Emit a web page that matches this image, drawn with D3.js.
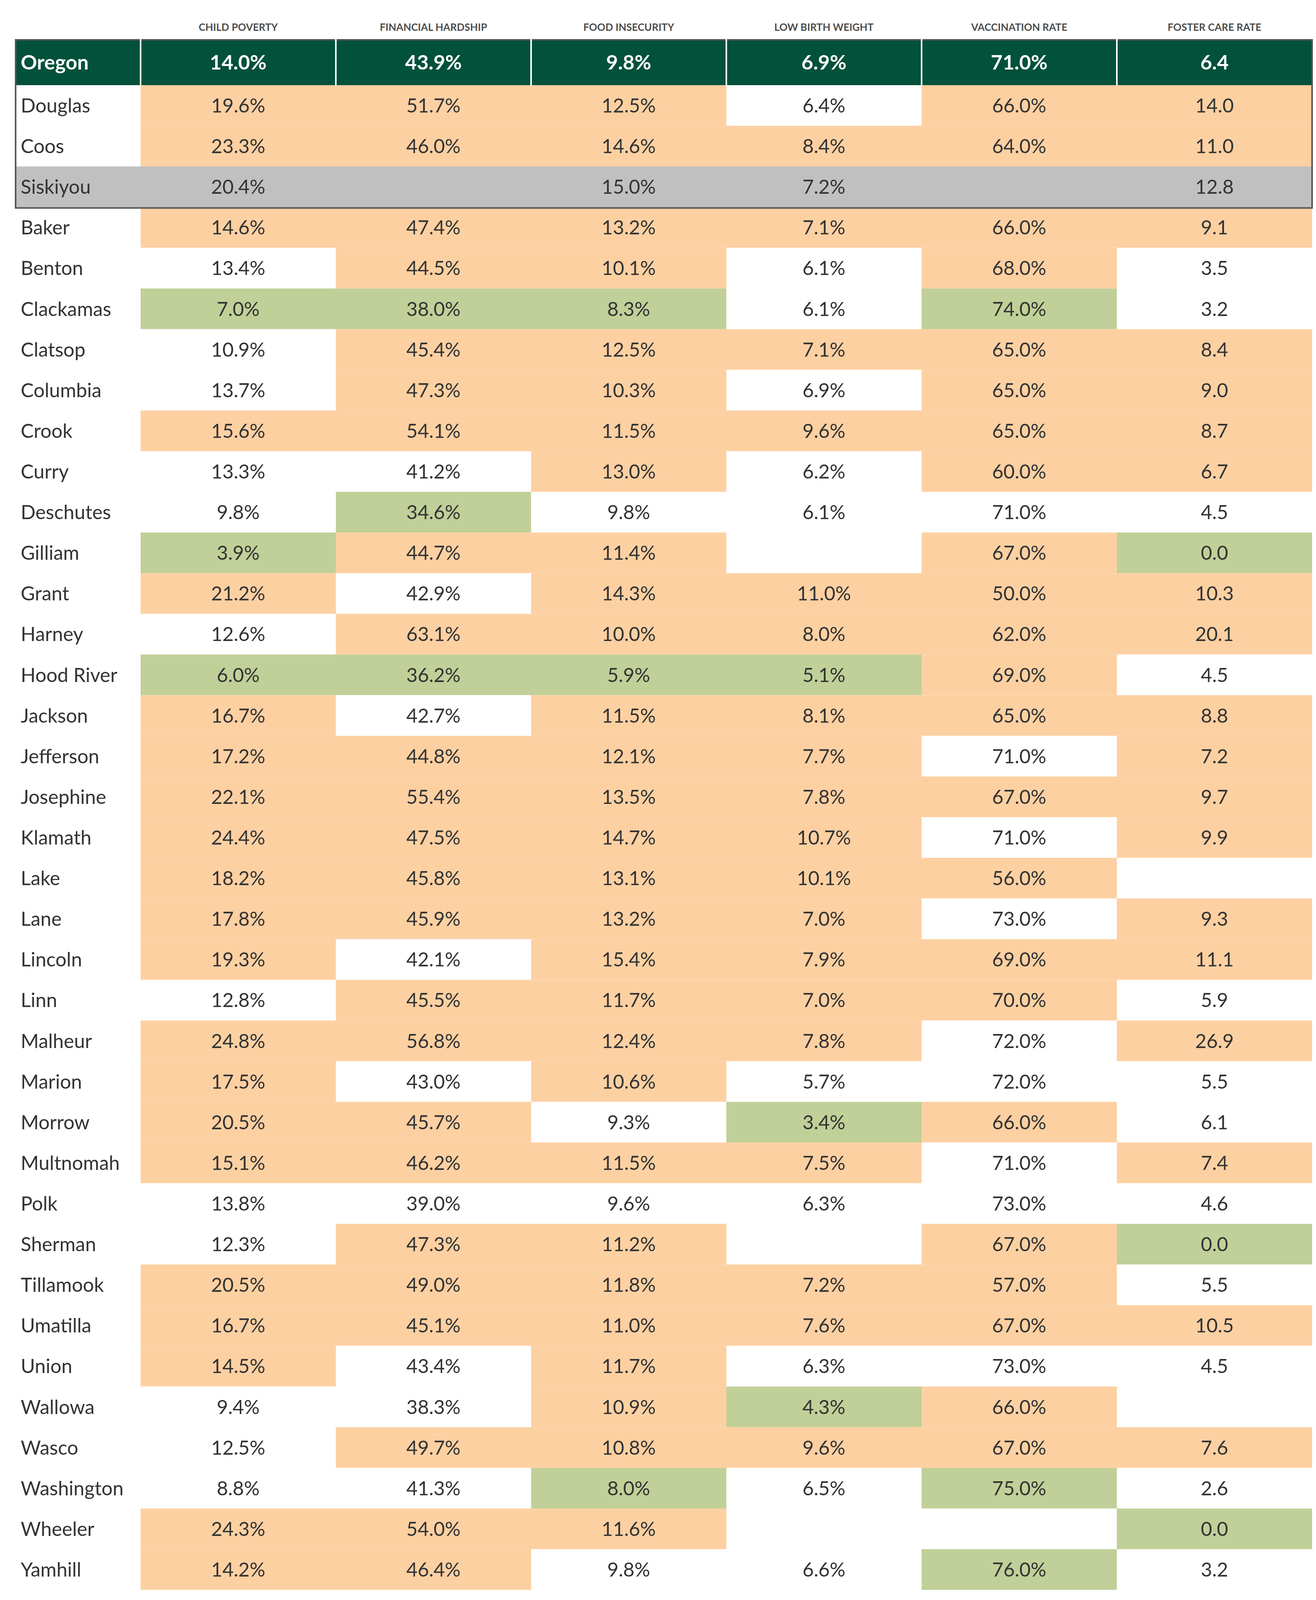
<!DOCTYPE html>
<html>
<head>
<meta charset="utf-8">
<script src="https://cdn.jsdelivr.net/npm/d3@7"></script>
<style>
  html, body { margin: 0; padding: 0; background: #ffffff; }
  svg { display: block; }
</style>
</head>
<body>
<svg id="chart" width="3370" height="4110"></svg>
<script>
// ---------- DATA ----------
const metricLabels = ["CHILD POVERTY", "FINANCIAL HARDSHIP", "FOOD INSECURITY", "LOW BIRTH WEIGHT", "VACCINATION RATE", "FOSTER CARE RATE"];
const stateName = "Oregon";
const stateValues = ["14.0%", "43.9%", "9.8%", "6.9%", "71.0%", "6.4"];

const counties = ["Douglas","Coos","Siskiyou","Baker","Benton","Clackamas","Clatsop","Columbia","Crook","Curry","Deschutes","Gilliam","Grant","Harney","Hood River","Jackson","Jefferson","Josephine","Klamath","Lake","Lane","Lincoln","Linn","Malheur","Marion","Morrow","Multnomah","Polk","Sherman","Tillamook","Umatilla","Union","Wallowa","Wasco","Washington","Wheeler","Yamhill"];
const highlightedCounty = "Siskiyou";

const childPoverty    = ["19.6%","23.3%","20.4%","14.6%","13.4%","7.0%","10.9%","13.7%","15.6%","13.3%","9.8%","3.9%","21.2%","12.6%","6.0%","16.7%","17.2%","22.1%","24.4%","18.2%","17.8%","19.3%","12.8%","24.8%","17.5%","20.5%","15.1%","13.8%","12.3%","20.5%","16.7%","14.5%","9.4%","12.5%","8.8%","24.3%","14.2%"];
const financialHardship = ["51.7%","46.0%","","47.4%","44.5%","38.0%","45.4%","47.3%","54.1%","41.2%","34.6%","44.7%","42.9%","63.1%","36.2%","42.7%","44.8%","55.4%","47.5%","45.8%","45.9%","42.1%","45.5%","56.8%","43.0%","45.7%","46.2%","39.0%","47.3%","49.0%","45.1%","43.4%","38.3%","49.7%","41.3%","54.0%","46.4%"];
const foodInsecurity  = ["12.5%","14.6%","15.0%","13.2%","10.1%","8.3%","12.5%","10.3%","11.5%","13.0%","9.8%","11.4%","14.3%","10.0%","5.9%","11.5%","12.1%","13.5%","14.7%","13.1%","13.2%","15.4%","11.7%","12.4%","10.6%","9.3%","11.5%","9.6%","11.2%","11.8%","11.0%","11.7%","10.9%","10.8%","8.0%","11.6%","9.8%"];
const lowBirthWeight  = ["6.4%","8.4%","7.2%","7.1%","6.1%","6.1%","7.1%","6.9%","9.6%","6.2%","6.1%","","11.0%","8.0%","5.1%","8.1%","7.7%","7.8%","10.7%","10.1%","7.0%","7.9%","7.0%","7.8%","5.7%","3.4%","7.5%","6.3%","","7.2%","7.6%","6.3%","4.3%","9.6%","6.5%","","6.6%"];
const vaccinationRate = ["66.0%","64.0%","","66.0%","68.0%","74.0%","65.0%","65.0%","65.0%","60.0%","71.0%","67.0%","50.0%","62.0%","69.0%","65.0%","71.0%","67.0%","71.0%","56.0%","73.0%","69.0%","70.0%","72.0%","72.0%","66.0%","71.0%","73.0%","67.0%","57.0%","67.0%","73.0%","66.0%","67.0%","75.0%","","76.0%"];
const fosterCareRate  = ["14.0","11.0","12.8","9.1","3.5","3.2","8.4","9.0","8.7","6.7","4.5","0.0","10.3","20.1","4.5","8.8","7.2","9.7","9.9","","9.3","11.1","5.9","26.9","5.5","6.1","7.4","4.6","0.0","5.5","10.5","4.5","","7.6","2.6","0.0","3.2"];

// status vs. state: 1 = worse, -1 = better, 0 = similar / no data
const childPovertyStatus      = [1,1,0,1,0,-1,0,0,1,0,0,-1,1,0,-1,1,1,1,1,1,1,1,0,1,1,1,1,0,0,1,1,1,0,0,0,1,1];
const financialHardshipStatus = [1,1,0,1,1,-1,1,1,1,0,-1,1,0,1,-1,0,1,1,1,1,1,0,1,1,0,1,1,0,1,1,1,0,0,1,0,1,1];
const foodInsecurityStatus    = [1,1,0,1,1,-1,1,1,1,1,0,1,1,1,-1,1,1,1,1,1,1,1,1,1,1,0,1,0,1,1,1,1,1,1,-1,1,0];
const lowBirthWeightStatus    = [0,1,0,1,0,0,1,0,1,0,0,0,1,1,-1,1,1,1,1,1,1,1,1,1,0,-1,1,0,0,1,1,0,-1,1,0,0,0];
const vaccinationRateStatus   = [1,1,0,1,1,-1,1,1,1,1,0,1,1,1,1,1,0,1,0,1,0,1,1,0,0,1,0,0,1,1,1,0,1,1,-1,0,-1];
const fosterCareRateStatus    = [1,1,0,1,0,0,1,1,1,1,0,-1,1,1,0,1,1,1,1,0,1,1,0,1,0,0,1,0,-1,0,1,0,0,1,0,-1,0];

// ---------- TABLE BUILD ----------
const metricValues = [childPoverty, financialHardship, foodInsecurity, lowBirthWeight, vaccinationRate, fosterCareRate];
const metricStatus = [childPovertyStatus, financialHardshipStatus, foodInsecurityStatus, lowBirthWeightStatus, vaccinationRateStatus, fosterCareRateStatus];

const cells = [];
counties.forEach((c, i) => {
  metricLabels.forEach((m, j) => {
    cells.push({ county: c, metric: m, value: metricValues[j][i], status: metricStatus[j][i] });
  });
});

// ---------- LAYOUT ----------
const svg = d3.select("#chart");
const tableLeft = 38, tableRight = 3360, nameColRight = 360;
const stateTop = 100, stateBottom = 218;
const rowsBottom = 4070;

const x = d3.scaleBand().domain(metricLabels).range([nameColRight, tableRight]);
const y = d3.scaleBand().domain(counties).range([stateBottom, rowsBottom]);

const colors = { worse: "#fdd0a2", better: "#c0d098", neutral: "#ffffff", highlight: "#c0c0c0", state: "#02513a" };
const fill = d => d.county === highlightedCounty ? colors.highlight
               : d.status === 1 ? colors.worse
               : d.status === -1 ? colors.better : colors.neutral;

const font = "Lato, 'Open Sans', 'DejaVu Sans', sans-serif";
const bodySize = 50, capRatio = 0.36;

svg.append("rect").attr("width", 3370).attr("height", 4110).attr("fill", "#fff");

// highlighted county full-row background
svg.append("rect")
  .attr("x", tableLeft).attr("y", y(highlightedCounty))
  .attr("width", tableRight - tableLeft).attr("height", y.bandwidth())
  .attr("fill", colors.highlight);

// data cells
svg.append("g").selectAll("rect").data(cells).join("rect")
  .attr("x", d => x(d.metric))
  .attr("y", d => y(d.county))
  .attr("width", x.bandwidth())
  .attr("height", y.bandwidth())
  .attr("fill", fill);

// cell values
svg.append("g").selectAll("text").data(cells.filter(d => d.value !== "")).join("text")
  .attr("x", d => x(d.metric) + x.bandwidth() / 2)
  .attr("y", d => y(d.county) + y.bandwidth() / 2 + bodySize * capRatio)
  .attr("text-anchor", "middle")
  .attr("font-family", font).attr("font-size", bodySize)
  .attr("fill", "#333333")
  .text(d => d.value);

// county names
svg.append("g").selectAll("text").data(counties).join("text")
  .attr("x", 53)
  .attr("y", d => y(d) + y.bandwidth() / 2 + bodySize * capRatio)
  .attr("font-family", font).attr("font-size", bodySize)
  .attr("fill", "#333333")
  .text(d => d);

// state row
const stateSize = 52;
svg.append("rect")
  .attr("x", tableLeft).attr("y", stateTop)
  .attr("width", tableRight - tableLeft).attr("height", stateBottom - stateTop)
  .attr("fill", colors.state);

svg.append("text")
  .attr("x", 53).attr("y", (stateTop + stateBottom) / 2 + stateSize * capRatio)
  .attr("font-family", font).attr("font-size", stateSize).attr("font-weight", 700)
  .attr("fill", "#ffffff").text(stateName);

svg.append("g").selectAll("text").data(metricLabels).join("text")
  .attr("x", d => x(d) + x.bandwidth() / 2)
  .attr("y", (stateTop + stateBottom) / 2 + stateSize * capRatio)
  .attr("text-anchor", "middle")
  .attr("font-family", font).attr("font-size", stateSize).attr("font-weight", 700)
  .attr("fill", "#ffffff")
  .text((d, i) => stateValues[i]);

// border around state + focus counties
const borderBottom = y(highlightedCounty) + y.bandwidth();
svg.append("rect")
  .attr("x", tableLeft + 2).attr("y", stateTop + 2)
  .attr("width", tableRight - tableLeft - 2).attr("height", borderBottom - stateTop)
  .attr("fill", "none").attr("stroke", "#555555").attr("stroke-width", 4);

// white separators in state row
svg.append("g").selectAll("line").data(metricLabels).join("line")
  .attr("x1", d => x(d)).attr("x2", d => x(d))
  .attr("y1", stateTop).attr("y2", stateBottom)
  .attr("stroke", "#ffffff").attr("stroke-width", 4);

// column headers
svg.append("g").selectAll("text").data(metricLabels).join("text")
  .attr("x", d => x(d) + x.bandwidth() / 2)
  .attr("y", 79)
  .attr("text-anchor", "middle")
  .attr("font-family", font).attr("font-size", 26).attr("font-weight", 700)
  .attr("fill", "#4d4d4d")
  .text(d => d);
</script>
</body>
</html>
